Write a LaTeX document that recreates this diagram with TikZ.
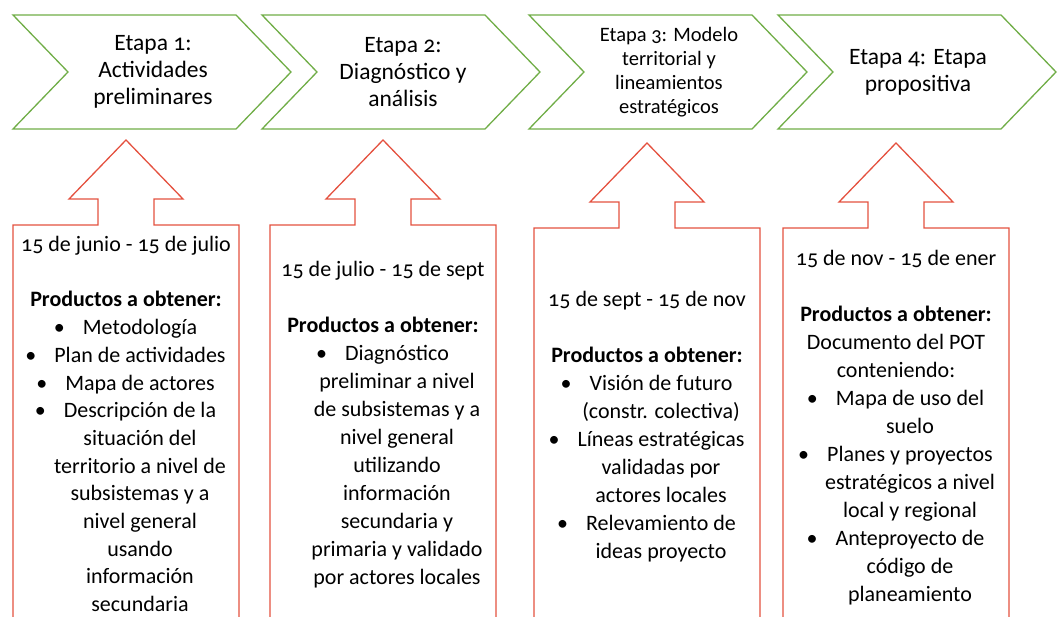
\documentclass[tikz,border=0pt]{standalone}
\usepackage{fontspec}
\setmainfont{Carlito}[Numbers=OldStyle]
\definecolor{etapagreen}{HTML}{70AD47}
\definecolor{productred}{HTML}{E4513F}
% bullet item and its continuation lines, shifted by the hanging indent
\newcommand{\punto}[1]{\hspace*{28pt}\llap{\textbullet\hspace{18pt}}#1}
\newcommand{\sigue}[1]{\hspace*{28pt}#1}

\begin{document}
\begin{tikzpicture}[x=1pt, y=-1pt,
  etapa/.style={draw=etapagreen, line width=1.3pt},
  producto/.style={draw=productred, line width=1.3pt},
  titulo/.style={align=center, inner sep=0pt, font=\fontsize{23.5}{27}\selectfont},
  lista/.style={align=center, inner sep=0pt, font=\fontsize{22}{28}\selectfont},
]
\useasboundingbox (0,0) rectangle (1062,617);
\clip (0,0) rectangle (1062,617);

% Chevrons of the four stages
\foreach \L in {13,262,529,778}
  \draw[etapa] (\L,15) -- ++(223,0) -- ++(55,57) -- ++(-55,57) -- ++(-223,0) -- ++(55,-57) -- cycle;

\node[titulo] (etapa1) at (153,72) {Etapa 1:\\Actividades\\preliminares};
\node[titulo] (etapa2) at (403,72) {Etapa 2:\\Diagnóstico y\\análisis};
\node[titulo, font=\fontsize{20.5}{24}\selectfont] (etapa3) at (669,72) {Etapa 3: Modelo\\territorial y\\lineamientos\\estratégicos};
\node[titulo] (etapa4) at (918,72) {Etapa 4: Etapa\\propositiva};

% Up-arrow callouts (open at the bottom)
\foreach \L/\T in {13/225, 270/225, 534/228, 783/228}
  \draw[producto] (\L,640) -- (\L,\T) -- (\L+85,\T) -- ++(0,-26) -- ++(-29,0) -- ++(57,-59)
    -- ++(57,59) -- ++(-29,0) -- ++(0,26) -- (\L+226,\T) -- (\L+226,640);

\node[lista, font=\fontsize{22}{27.7}\selectfont] (prod1) at (126,424) {15 de junio - 15 de julio\\[27.7pt]
  \textbf{Productos a obtener:}\\
  \punto{Metodología}\\
  \punto{Plan de actividades}\\
  \punto{Mapa de actores}\\
  \punto{Descripción de la}\\
  \sigue{situación del}\\
  \sigue{territorio a nivel de}\\
  \sigue{subsistemas y a}\\
  \sigue{nivel general}\\
  \sigue{usando}\\
  \sigue{información}\\
  \sigue{secundaria}};

\node[lista] (prod2) at (383,425) {15 de julio - 15 de sept\\[28pt]
  \textbf{Productos a obtener:}\\
  \punto{Diagnóstico}\\
  \sigue{preliminar a nivel}\\
  \sigue{de subsistemas y a}\\
  \sigue{nivel general}\\
  \sigue{utilizando}\\
  \sigue{información}\\
  \sigue{secundaria y}\\
  \sigue{primaria y validado}\\
  \sigue{por actores locales}};

\node[lista] (prod3) at (647,427) {15 de sept - 15 de nov\\[28pt]
  \textbf{Productos a obtener:}\\
  \punto{Visión de futuro}\\
  \sigue{(constr. colectiva)}\\
  \punto{Líneas estratégicas}\\
  \sigue{validadas por}\\
  \sigue{actores locales}\\
  \punto{Relevamiento de}\\
  \sigue{ideas proyecto}};

\node[lista] (prod4) at (896,428) {15 de nov - 15 de ener\\[28pt]
  \textbf{Productos a obtener:}\\
  Documento del POT\\
  conteniendo:\\
  \punto{Mapa de uso del}\\
  \sigue{suelo}\\
  \punto{Planes y proyectos}\\
  \sigue{estratégicos a nivel}\\
  \sigue{local y regional}\\
  \punto{Anteproyecto de}\\
  \sigue{código de}\\
  \sigue{planeamiento}};

\end{tikzpicture}
\end{document}
